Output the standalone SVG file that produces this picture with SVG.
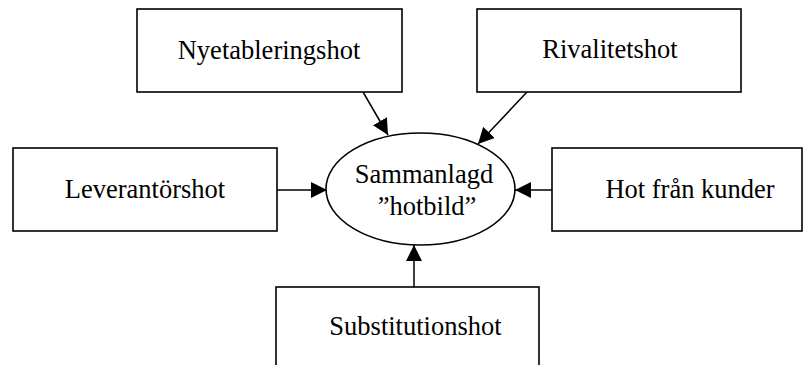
<svg xmlns="http://www.w3.org/2000/svg" width="803" height="365" viewBox="0 0 803 365">
<style>
.box{fill:#fff;stroke:#000;stroke-width:1.6}
.lbl{font-family:"Liberation Serif","Times New Roman",serif;font-size:26.5px;fill:#000;text-anchor:middle}
.edge{stroke:#000;stroke-width:1.5;fill:none}
</style>
<defs>
<marker id="ah" viewBox="0 0 16 16" refX="16" refY="8" markerWidth="16" markerHeight="16" markerUnits="userSpaceOnUse" orient="auto">
<path d="M0,0 L16,8 L0,16 Z" fill="#000"/>
</marker>
</defs>
<rect width="803" height="365" fill="#fff"/>
<g id="connectors">
<line class="edge" x1="363" y1="92" x2="388" y2="135" marker-end="url(#ah)"/>
<line class="edge" x1="527" y1="92" x2="478" y2="144" marker-end="url(#ah)"/>
<line class="edge" x1="277" y1="190" x2="327" y2="190" marker-end="url(#ah)"/>
<line class="edge" x1="552" y1="190" x2="515" y2="190" marker-end="url(#ah)"/>
<line class="edge" x1="414" y1="287" x2="414" y2="245" marker-end="url(#ah)"/>
</g>
<g id="nyetablering">
<rect class="box" x="137" y="9" width="265" height="83"/>
<text class="lbl" x="269" y="59">Nyetableringshot</text>
</g>
<g id="rivalitet">
<rect class="box" x="477" y="9" width="264" height="83"/>
<text class="lbl" x="610" y="58">Rivalitetshot</text>
</g>
<g id="leverantor">
<rect class="box" x="13" y="148" width="264" height="83"/>
<text class="lbl" x="145" y="198">Leverantörshot</text>
</g>
<g id="kunder">
<rect class="box" x="552" y="148" width="250" height="83"/>
<text class="lbl" x="690" y="198">Hot från kunder</text>
</g>
<g id="substitution">
<rect class="box" x="276" y="287" width="263" height="90"/>
<text class="lbl" x="415.5" y="335">Substitutionshot</text>
</g>
<g id="sammanlagd">
<ellipse class="box" cx="420.5" cy="189" rx="94.5" ry="56"/>
<text class="lbl" x="424" y="183">Sammanlagd</text>
<text class="lbl" x="427" y="215">”hotbild”</text>
</g>
</svg>
